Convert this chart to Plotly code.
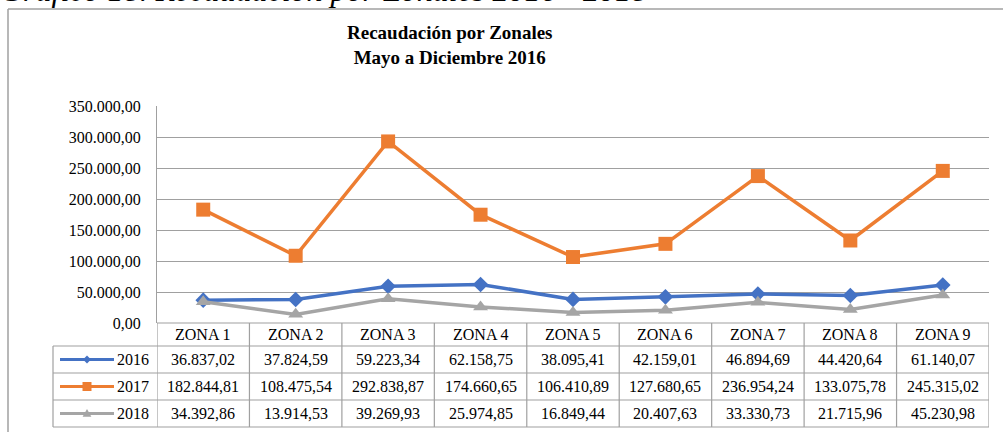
import plotly.graph_objects as go

# ---------------- data ----------------
zones = ["ZONA 1", "ZONA 2", "ZONA 3", "ZONA 4", "ZONA 5", "ZONA 6", "ZONA 7", "ZONA 8", "ZONA 9"]
years = ["2016", "2017", "2018"]
v2016 = [36837.02, 37824.59, 59223.34, 62158.75, 38095.41, 42159.01, 46894.69, 44420.64, 61140.07]
v2017 = [182844.81, 108475.54, 292838.87, 174660.65, 106410.89, 127680.65, 236954.24, 133075.78, 245315.02]
v2018 = [34392.86, 13914.53, 39269.93, 25974.85, 16849.44, 20407.63, 33330.73, 21715.96, 45230.98]
series = [v2016, v2017, v2018]
colors = ["#4472C4", "#ED7D31", "#A5A5A5"]
symbols = ["diamond", "square", "triangle-up"]
msizes = [12, 14, 13]

title_text = "<b>Recaudación por Zonales<br>Mayo a Diciembre 2016</b>"
caption_text = "<i>Gráfico 18. Recaudación por Zonales 2016 - 2018</i>"

# ---------------- layout helpers (pixel -> paper) ----------------
W, H = 1003, 432
def px(x):
    return x / W
def py(y):
    return 1 - y / H

PL, PR, PT, PB = 157, 989, 106, 323      # plot area
ROWS = [323, 346, 373, 400, 427]          # table horizontal lines
LEG_L = 53
GRAY = "#A0A0A0"
FONT = "Liberation Serif"
FS = 16

def fmt(v):
    s = f"{v:,.2f}"
    return s.replace(",", "X").replace(".", ",").replace("X", ".")

fig = go.Figure()
for name, vals, c, sym, ms in zip(years, series, colors, symbols, msizes):
    fig.add_trace(go.Scatter(
        x=zones, y=vals, name=name, mode="lines+markers",
        line=dict(color=c, width=3.5),
        marker=dict(symbol=sym, size=ms, color=c),
        cliponaxis=False, showlegend=False,
    ))

shapes = []
annotations = []

# outer frame (cropped at right/bottom)
shapes.append(dict(type="line", xref="paper", yref="paper", x0=px(8), x1=px(1010), y0=py(9), y1=py(9),
                   line=dict(color=GRAY, width=1.5)))
shapes.append(dict(type="line", xref="paper", yref="paper", x0=px(8), x1=px(8), y0=py(9), y1=py(440),
                   line=dict(color=GRAY, width=1.5)))

# table horizontal lines
shapes.append(dict(type="line", xref="paper", yref="paper", x0=px(PL), x1=px(PR), y0=py(ROWS[0]), y1=py(ROWS[0]),
                   line=dict(color=GRAY, width=1.2)))
for r in ROWS[1:]:
    shapes.append(dict(type="line", xref="paper", yref="paper", x0=px(LEG_L), x1=px(PR), y0=py(r), y1=py(r),
                       line=dict(color=GRAY, width=1.2)))
# table vertical lines (zone boundaries from the x axis)
for k in range(len(zones) + 1):
    shapes.append(dict(type="line", xref="x", yref="paper", x0=k - 0.5, x1=k - 0.5,
                       y0=py(ROWS[0]), y1=py(ROWS[-1]), line=dict(color=GRAY, width=1.2)))
shapes.append(dict(type="line", xref="paper", yref="paper", x0=px(LEG_L), x1=px(LEG_L),
                   y0=py(ROWS[1]), y1=py(ROWS[-1]), line=dict(color=GRAY, width=1.2)))

# header row
hy = (ROWS[0] + ROWS[1]) / 2
for z in zones:
    annotations.append(dict(x=z, xref="x", y=py(hy), yref="paper", text=z, showarrow=False,
                            font=dict(family=FONT, size=FS, color="black"), xanchor="center", yanchor="middle"))

# value rows + legend keys
def marker_path(sym, cx, cy, s):
    if sym == "diamond":
        pts = [(cx, cy - s), (cx + s, cy), (cx, cy + s), (cx - s, cy)]
    elif sym == "square":
        pts = [(cx - s, cy - s), (cx + s, cy - s), (cx + s, cy + s), (cx - s, cy + s)]
    else:
        pts = [(cx, cy - s * 1.1), (cx + s * 1.1, cy + s * 0.8), (cx - s * 1.1, cy + s * 0.8)]
    return "M " + " L ".join(f"{px(a):.6f},{py(b):.6f}" for a, b in pts) + " Z"

key_size = [4.0, 4.5, 4.0]
for i, (name, vals, c, sym) in enumerate(zip(years, series, colors, symbols)):
    cy = (ROWS[i + 1] + ROWS[i + 2]) / 2
    for z, v in zip(zones, vals):
        annotations.append(dict(x=z, xref="x", y=py(cy), yref="paper", text=fmt(v), showarrow=False,
                                font=dict(family=FONT, size=FS, color="black"),
                                xanchor="center", yanchor="middle"))
    annotations.append(dict(x=px(151), xref="paper", y=py(cy), yref="paper", text=name, showarrow=False,
                            font=dict(family=FONT, size=FS, color="black"), xanchor="right", yanchor="middle"))
    shapes.append(dict(type="line", xref="paper", yref="paper", x0=px(60), x1=px(114), y0=py(cy), y1=py(cy),
                       line=dict(color=c, width=3)))
    shapes.append(dict(type="path", xref="paper", yref="paper", path=marker_path(sym, 87, cy, key_size[i]),
                       fillcolor=c, line=dict(color=c, width=0)))

# chart title
annotations.append(dict(x=px(450), xref="paper", y=py(45), yref="paper", text=title_text, showarrow=False,
                        font=dict(family=FONT, size=19, color="black"), xanchor="center", yanchor="middle",
                        align="center"))
# cropped caption above the frame
annotations.append(dict(x=px(-1), xref="paper", y=py(9), yref="paper", text=caption_text, showarrow=False,
                        font=dict(family=FONT, size=32, color="black"), xanchor="left", yanchor="bottom",
                        borderpad=0))

fig.update_layout(
    width=W, height=H,
    margin=dict(l=0, r=0, t=0, b=0, autoexpand=False),
    paper_bgcolor="white", plot_bgcolor="white",
    separators=",.",
    shapes=shapes, annotations=annotations,
    xaxis=dict(domain=[px(PL), px(PR)], type="category", range=[-0.5, len(zones) - 0.5],
               showticklabels=False, showgrid=False, zeroline=False, showline=False, fixedrange=True,
               automargin=False),
    yaxis=dict(domain=[py(PB), py(PT)], range=[0, 350000], dtick=50000, tick0=0,
               tickformat=",.2f", showgrid=True, gridcolor=GRAY, gridwidth=1.2,
               zeroline=False, showline=True, linecolor=GRAY, linewidth=1.2,
               ticks="", ticklabelstandoff=12, automargin=False,
               tickfont=dict(family=FONT, size=FS, color="black"), fixedrange=True),
    showlegend=False,
)

fig.write_html("out.html", config={"displayModeBar": False},
               post_script="document.body.style.margin='0';document.body.style.overflow='hidden';")
